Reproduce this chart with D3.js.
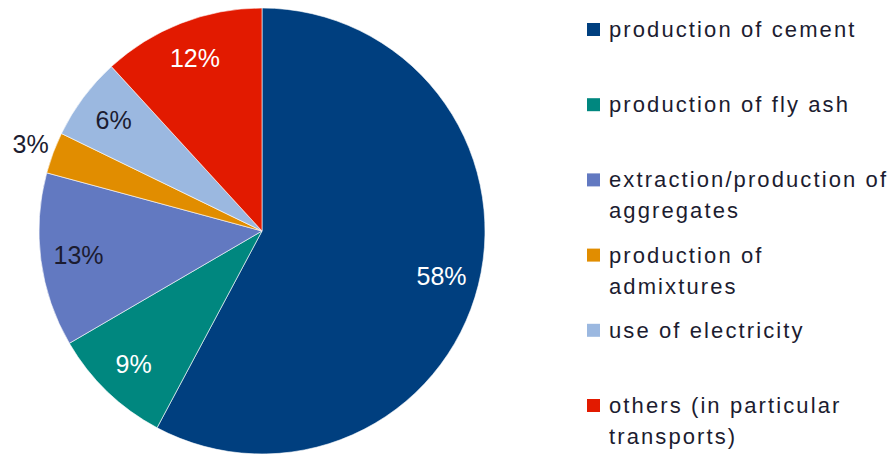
<!DOCTYPE html>
<html>
<head>
<meta charset="utf-8">
<script src="https://cdn.jsdelivr.net/npm/d3@7"></script>
<style>
  body { margin: 0; background: #fff; }
  svg { display: block; font-family: "Liberation Sans", Arial, sans-serif; }
</style>
</head>
<body>
<div id="chart"></div>
<script>
const width = 889;
const height = 455;

// data
const categories = [
  "production of cement",
  "production of fly ash",
  "extraction/production of aggregates",
  "production of admixtures",
  "use of electricity",
  "others (in particular transports)"
];
const legendLines = [
  ["production of cement"],
  ["production of fly ash"],
  ["extraction/production of", "aggregates"],
  ["production of", "admixtures"],
  ["use of electricity"],
  ["others (in particular", "transports)"]
];
const values = [57.8, 8.8, 12.6, 3.0, 6.0, 11.8];
const labels = ["58%", "9%", "13%", "3%", "6%", "12%"];
const colors = ["#003f7f", "#00877f", "#6279c1", "#e18d00", "#9bb8e0", "#e21a00"];
const labelColors = ["#fff", "#fff", "#1c1c30", "#1c1c30", "#1c1c30", "#fff"];

const cx = 262, cy = 231, radius = 223;

const svg = d3.select("#chart").append("svg")
  .attr("width", width)
  .attr("height", height);

const pie = d3.pie().sort(null).value(d => d);
const arcs = pie(values);

const arc = d3.arc().innerRadius(0).outerRadius(radius);
const labelArc = d3.arc().innerRadius(radius * 0.83).outerRadius(radius * 0.83);
const outerArc = d3.arc().innerRadius(radius + 24).outerRadius(radius + 24);

const g = svg.append("g").attr("transform", `translate(${cx},${cy})`);

g.selectAll("path")
  .data(arcs)
  .join("path")
  .attr("d", arc)
  .attr("fill", (d, i) => colors[i])
  .attr("stroke", "#fff")
  .attr("stroke-width", 0.6);

// small slices get their label outside
g.selectAll("text")
  .data(arcs)
  .join("text")
  .attr("transform", (d, i) => `translate(${(values[i] < 5 ? outerArc : labelArc).centroid(d)})`)
  .attr("text-anchor", "middle")
  .attr("dy", "0.36em")
  .attr("font-size", 25)
  .attr("fill", (d, i) => labelColors[i])
  .text((d, i) => labels[i]);

// legend
const legendY = d3.scalePoint()
  .domain(categories)
  .range([29, 405]);

const legend = svg.append("g").attr("transform", "translate(587,0)");

const item = legend.selectAll("g")
  .data(categories)
  .join("g")
  .attr("transform", d => `translate(0,${legendY(d)})`);

item.append("rect")
  .attr("x", 0)
  .attr("y", -6)
  .attr("width", 13)
  .attr("height", 13)
  .attr("fill", (d, i) => colors[i]);

item.append("text")
  .attr("x", 22)
  .attr("y", 8)
  .attr("font-size", 22)
  .attr("letter-spacing", 2.1)
  .attr("fill", "#1c1c30")
  .selectAll("tspan")
  .data((d, i) => legendLines[i])
  .join("tspan")
  .attr("x", 22)
  .attr("dy", (d, j) => j === 0 ? 0 : 31)
  .text(d => d);
</script>
</body>
</html>
